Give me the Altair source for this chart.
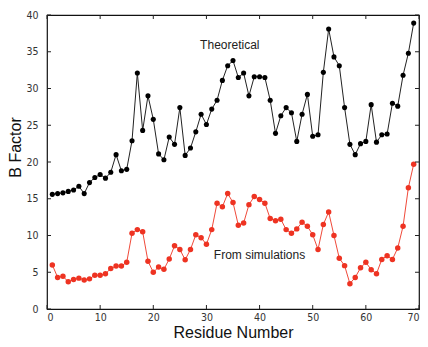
import altair as alt
import pandas as pd

residue = list(range(1, 70))
theoretical = [15.6, 15.7, 15.8, 16.0, 16.2, 16.7, 15.7, 17.2, 17.9, 18.3,
               17.8, 18.6, 21.0, 18.8, 19.0, 22.9, 32.1, 24.3, 29.0, 25.8,
               21.1, 20.3, 23.4, 22.4, 27.4, 20.9, 21.9, 24.1, 26.5, 25.1,
               27.2, 28.4, 31.1, 33.1, 33.8, 31.5, 32.1, 29.0, 31.6, 31.6,
               31.5, 28.4, 23.9, 26.3, 27.4, 26.7, 22.8, 26.5, 29.2, 23.5,
               23.7, 32.2, 38.1, 34.3, 33.1, 27.4, 22.4, 21.0, 22.5, 22.8,
               27.8, 22.7, 23.7, 23.8, 28.0, 27.6, 31.8, 34.8, 38.9]
simulations = [6.0, 4.3, 4.45, 3.7, 4.0, 4.2, 3.95, 4.1, 4.6, 4.6,
               4.8, 5.5, 5.85, 5.85, 6.35, 10.3, 10.8, 10.5, 6.5, 5.0,
               5.7, 5.4, 6.8, 8.6, 8.1, 6.7, 8.1, 10.1, 9.7, 8.8,
               10.8, 14.4, 13.9, 15.7, 14.5, 11.4, 11.7, 14.2, 15.3, 14.9,
               14.4, 12.3, 12.0, 12.2, 10.8, 10.3, 10.9, 11.8, 11.25, 10.1,
               8.1, 11.5, 13.2, 10.0, 6.9, 5.9, 3.45, 4.3, 5.6, 6.35,
               5.35, 4.8, 6.75, 7.25, 6.75, 8.3, 11.25, 16.5, 19.7]
x_ticks = [0, 10, 20, 30, 40, 50, 60, 70]
y_ticks = [0, 5, 10, 15, 20, 25, 30, 35, 40]
label_text = ["Theoretical", "From simulations"]
label_x = [34.4, 31.4]
label_y = [35.9, 7.4]
label_align = ["center", "left"]

W, H = 372, 294
TICK_FONT = "Liberation Sans Narrow, DejaVu Sans Condensed, Liberation Sans"
TITLE_FONT = "Liberation Sans"

df = pd.DataFrame({"residue": residue, "theo": theoretical, "sim": simulations})
xt = pd.DataFrame({"residue": x_ticks})
yt = pd.DataFrame({"b": y_ticks})

xs = alt.Scale(domain=[0, 70], nice=False, zero=False)
ys = alt.Scale(domain=[0, 40], nice=False, zero=False)

x_axis = alt.Axis(title="Residue Number", values=x_ticks, ticks=False, domain=False,
                  grid=False, labelFont=TICK_FONT, labelFontSize=10.5, labelColor="#333",
                  labelPadding=3, titleFont=TITLE_FONT, titleFontSize=16,
                  titleFontWeight="normal", titleColor="#111", titlePadding=2)
y_axis = alt.Axis(title="B Factor", values=y_ticks, ticks=False, domain=False,
                  grid=False, labelFont=TICK_FONT, labelFontSize=10.5, labelColor="#333",
                  labelPadding=9, titleFont=TITLE_FONT, titleFontSize=16,
                  titleFontWeight="normal", titleColor="#111",
                  titleX=-24, titleY=132, titleAlign="center", titleBaseline="bottom")

X = alt.X("residue:Q", scale=xs, axis=x_axis)

theo_line = alt.Chart(df).mark_line(color="#222222", strokeWidth=1).encode(
    x=X, y=alt.Y("theo:Q", scale=ys, axis=y_axis))
theo_pts = alt.Chart(df).mark_circle(color="#000000", size=26, opacity=1).encode(
    x=X, y=alt.Y("theo:Q", scale=ys, axis=y_axis))
sim_line = alt.Chart(df).mark_line(color="#f04a3a", strokeWidth=1).encode(
    x=X, y=alt.Y("sim:Q", scale=ys, axis=y_axis))
sim_pts = alt.Chart(df).mark_circle(color="#ee3322", size=30, opacity=1).encode(
    x=X, y=alt.Y("sim:Q", scale=ys, axis=y_axis))

lab = pd.DataFrame({"t": label_text, "x": label_x, "y": label_y, "a": label_align})
text_c = alt.Chart(lab[lab.a == "center"]).mark_text(
    font=TITLE_FONT, fontSize=12, color="#222", align="center", baseline="middle").encode(
    x=alt.X("x:Q", scale=xs, axis=x_axis), y=alt.Y("y:Q", scale=ys, axis=y_axis), text="t:N")
text_l = alt.Chart(lab[lab.a == "left"]).mark_text(
    font=TITLE_FONT, fontSize=12, color="#222", align="left", baseline="middle").encode(
    x=alt.X("x:Q", scale=xs, axis=x_axis), y=alt.Y("y:Q", scale=ys, axis=y_axis), text="t:N")

tb = alt.Chart(xt).mark_rule(color="#222", strokeWidth=1).encode(
    x=X, y=alt.value(H), y2=alt.value(H - 4))
tt = alt.Chart(xt).mark_rule(color="#222", strokeWidth=1).encode(
    x=X, y=alt.value(0), y2=alt.value(4))
yY = alt.Y("b:Q", scale=ys, axis=y_axis)
tl = alt.Chart(yt).mark_rule(color="#222", strokeWidth=1).encode(
    y=yY, x=alt.value(0), x2=alt.value(4))
tr = alt.Chart(yt).mark_rule(color="#222", strokeWidth=1).encode(
    y=yY, x=alt.value(W), x2=alt.value(W - 4))

chart = alt.layer(theo_line, sim_line, theo_pts, sim_pts, text_c, text_l, tb, tt, tl, tr).properties(
    width=W, height=H,
    autosize=alt.AutoSizeParams(type="none"),
    padding={"left": 47, "top": 15, "right": 9, "bottom": 38},
    background="white",
).configure_view(stroke="#111", strokeWidth=1.2)

chart.save("out.html", embed_options={"renderer": "svg", "actions": False})
